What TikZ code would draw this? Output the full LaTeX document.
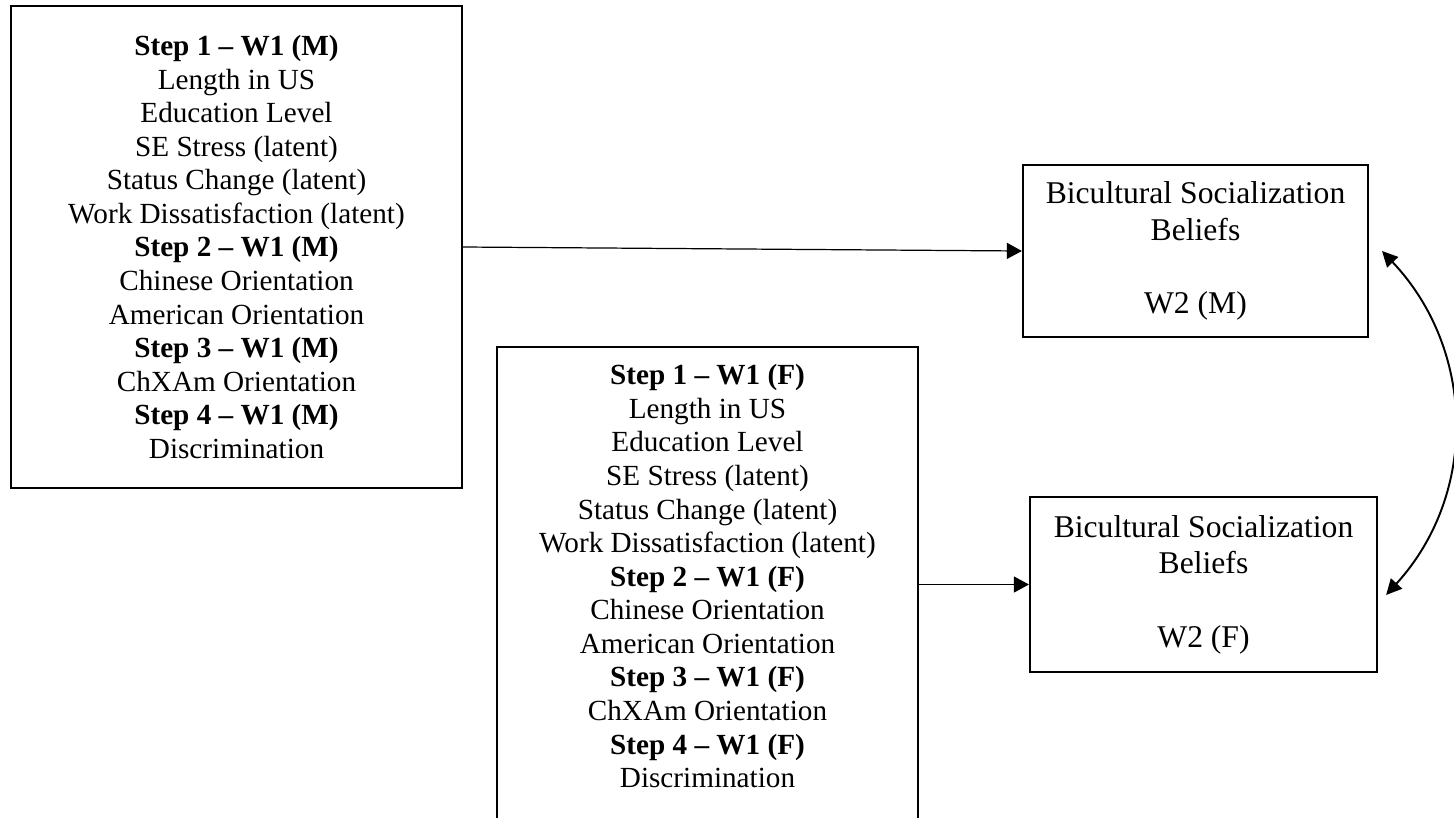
\documentclass[tikz,border=0pt]{standalone}
\usepackage{fontspec}
\setmainfont{Liberation Serif}
\usetikzlibrary{arrows.meta}
\begin{document}
\begin{tikzpicture}[x=0.411pt, y=-0.411pt,
  stepbox/.style={draw, line width=0.9pt, inner sep=0pt, align=center,
    font=\fontsize{12}{13.8}\selectfont},
  steptext/.style={inner sep=0pt, align=center, font=\fontsize{12}{13.8}\selectfont},
  outbox/.style={draw, line width=0.9pt, inner sep=0pt, align=center,
    font=\fontsize{13}{15.1}\selectfont},
  tip/.style={-{Triangle[length=6.2pt,width=6.6pt]}},
  conn/.style={line width=0.5pt, tip},
  corr/.style={line width=0.8pt, {Triangle[length=6.4pt,width=6.2pt]}-{Triangle[length=6.4pt,width=6.2pt]}}]

\useasboundingbox (0,0) rectangle (1454,817);
\clip (0,0) rectangle (1454,817);

% predictors, mothers
\node[stepbox, minimum width=185.4pt, minimum height=198.1pt] (stepsM) at (236.5,247)
  {\textbf{Step 1 – W1 (M)}\\
   Length in US\\
   Education Level\\
   SE Stress (latent)\\
   Status Change (latent)\\
   Work Dissatisfaction (latent)\\
   \textbf{Step 2 – W1 (M)}\\
   Chinese Orientation\\
   American Orientation\\
   \textbf{Step 3 – W1 (M)}\\
   ChXAm Orientation\\
   \textbf{Step 4 – W1 (M)}\\
   Discrimination};

% predictors, fathers (box runs past the lower edge)
\node[stepbox, minimum width=173.0pt, minimum height=202.6pt] (stepsF) at (707.5,593.5) {};
\node[steptext, anchor=north] (stepsFtext) at ([yshift=-7.4pt]stepsF.north)
  {\textbf{Step 1 – W1 (F)}\\
   Length in US\\
   Education Level\\
   SE Stress (latent)\\
   Status Change (latent)\\
   Work Dissatisfaction (latent)\\
   \textbf{Step 2 – W1 (F)}\\
   Chinese Orientation\\
   American Orientation\\
   \textbf{Step 3 – W1 (F)}\\
   ChXAm Orientation\\
   \textbf{Step 4 – W1 (F)}\\
   Discrimination};

% outcomes
\node[outbox, minimum width=141.8pt, minimum height=70.7pt] (w2m) at (1195.5,251)
  {Bicultural Socialization\\Beliefs\\[15.1pt]W2 (M)};
\node[outbox, minimum width=142.6pt, minimum height=71.9pt] (w2f) at (1203.5,584.5)
  {Bicultural Socialization\\Beliefs\\[15.1pt]W2 (F)};

% paths
\draw[conn] (stepsM.east) -- (w2m.west);
\draw[conn] (stepsF.east |- w2f.west) -- (w2f.west);

% correlation between the two outcomes
\coordinate (cTop) at ([xshift=5.3pt]w2m.east);
\coordinate (cBot) at ([xshift=3.3pt,yshift=-4.3pt]w2f.east);
\draw[corr] (cTop) .. controls +(93,98) and +(93,-102) .. (cBot);
\end{tikzpicture}
\end{document}
